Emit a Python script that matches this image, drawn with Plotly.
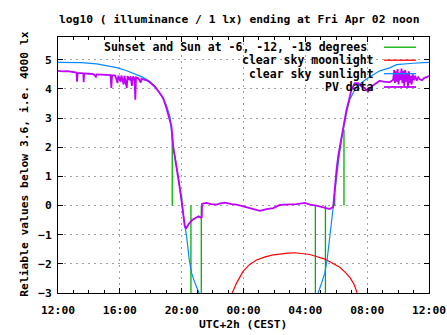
import plotly.graph_objects as go

# ---- data (hours after 12:00 CEST) ----
sun_hours = [0.0, 1.5, 2.5, 3.2, 3.8, 4.4, 4.85, 5.4, 5.95, 6.3, 6.6, 6.85, 7.0, 7.24, 7.45, 7.6,
             7.78, 7.93, 8.03, 8.21, 8.32, 8.49, 8.64, 8.86, 9.13, 9.2,
             16.8, 16.83, 17.05, 17.26, 17.41, 17.58, 17.69, 17.8, 17.91, 18.02, 18.18, 18.34,
             18.49, 18.66, 18.87, 19.31, 19.95, 20.81, 21.46, 21.9, 22.97, 24.0]
sun_values = [4.91, 4.90, 4.86, 4.80, 4.73, 4.63, 4.54, 4.42, 4.25, 4.08, 3.86, 3.62, 3.46, 3.05, 2.03, 1.57,
              1.0, 0.35, 0.05, -0.72, -1.06, -1.86, -2.31, -2.66, -3.0, -3.1,
              -3.1, -3.0, -2.66, -2.31, -1.86, -1.06, -0.72, -0.03, 0.54, 1.0, 1.68, 2.26,
              2.71, 3.17, 3.63, 4.08, 4.34, 4.62, 4.72, 4.83, 4.88, 4.91]

moon_hours = [11.27, 11.55, 11.98, 12.4, 12.84, 13.4, 13.92, 14.4, 14.89, 15.32, 15.86, 16.29,
              16.72, 17.26, 17.7, 18.23, 18.6, 18.9, 19.15, 19.35]
moon_values = [-3.0, -2.66, -2.25, -2.02, -1.87, -1.76, -1.69, -1.65, -1.63, -1.62, -1.64, -1.68,
               -1.75, -1.84, -1.96, -2.12, -2.3, -2.48, -2.7, -3.0]

event_hours = [7.39, 8.0, 8.6, 9.27, 16.65, 17.3, 17.9, 18.5]
event_values = [2.43, 0.35, -3.5, -3.5, -3.5, -3.5, 0.4, 2.6]

pv_hours = [0.00, 0.30, 0.60, 0.90, 1.20, 1.23, 1.27, 1.50, 1.64, 1.66, 1.69, 2.00, 2.30, 2.45, 2.50,
            2.80, 3.10, 3.40, 3.45, 3.50, 3.70, 3.85, 3.90, 4.05, 4.10, 4.25, 4.30, 4.45, 4.50,
            4.62, 4.70, 4.78, 4.85, 4.95, 5.00, 5.05, 5.20, 5.35, 5.40, 5.60, 5.80, 6.00, 6.25,
            6.57, 6.80, 7.00, 7.20, 7.34, 7.45, 7.60, 7.78, 7.93, 8.04, 8.10, 8.20, 8.30, 8.50,
            8.70, 8.90, 9.10, 9.25, 9.30, 9.32, 9.61, 9.90, 10.26, 10.50, 10.80, 11.23, 11.55,
            11.98, 12.41, 12.84, 13.06, 13.49, 13.92, 14.35, 15.00, 15.43, 15.97, 16.29, 16.72,
            17.15, 17.58, 17.80, 17.86, 17.91, 18.02, 18.12, 18.23, 18.44, 18.55, 18.66, 18.83,
            18.98, 19.20, 19.41, 19.63, 19.84, 20.06, 20.28, 20.60, 20.81, 21.03, 21.46, 21.68,
            21.75, 21.80, 21.85, 21.92, 21.97, 22.03, 22.10, 22.15, 22.22, 22.28, 22.35, 22.40,
            22.46, 22.52, 22.58, 22.64, 22.70, 22.76, 22.82, 22.88, 22.95, 23.02, 23.10, 23.20,
            23.30, 23.40, 23.55, 23.70, 23.85, 24.00]
pv_values = [4.62, 4.60, 4.61, 4.58, 4.56, 4.25, 4.55, 4.54, 4.53, 4.23, 4.53, 4.52, 4.51, 4.42, 4.50,
             4.49, 4.48, 4.47, 4.03, 4.47, 4.46, 4.20, 4.46, 4.25, 4.46, 4.15, 4.45, 4.03, 4.44,
             4.30, 4.43, 4.10, 4.42, 4.35, 3.63, 4.40, 4.37, 4.22, 4.34, 4.31, 4.28, 4.20, 4.08,
             3.86, 3.69, 3.37, 2.94, 2.71, 2.03, 1.57, 0.88, 0.43, -0.03, -0.26, -0.72, -0.77, -0.60,
             -0.49, -0.43, -0.37, -0.42, -0.40, 0.06, 0.09, 0.05, 0.03, 0.07, 0.10, 0.05, 0.03,
             -0.03, -0.09, -0.17, -0.18, -0.12, -0.09, 0.02, 0.03, 0.05, 0.09, 0.03, 0.00,
             -0.05, -0.12, -0.05, 0.31, 0.77, 1.23, 1.68, 2.03, 2.71, 3.05, 3.28, 3.63,
             3.97, 4.20, 4.20, 4.08, 4.03, 3.91, 4.08, 4.20, 4.28, 4.25, 4.23, 4.31,
             4.65, 4.20, 4.60, 4.25, 4.68, 4.15, 4.55, 4.30, 4.70, 4.20, 4.62, 4.10,
             4.65, 4.25, 4.55, 4.05, 4.60, 4.20, 4.45, 4.15, 4.50, 4.30, 4.45, 4.28,
             4.40, 4.33, 4.30, 4.38, 4.40, 4.45]

x_tick_vals = [0, 4, 8, 12, 16, 20, 24]
x_tick_text = ["12:00", "16:00", "20:00", "00:00", "04:00", "08:00", "12:00"]
y_tick_vals = [-3, -2, -1, 0, 1, 2, 3, 4, 5]

legend_labels = ["Sunset and Sun at -6, -12, -18 degrees", "clear sky moonlight",
                 "clear sky sunlight", "PV data"]

GREEN = "#00b000"
RED = "#ff0000"
BLUE = "#0a88ff"
PURPLE = "#c000ff"
FONT = "DejaVu Sans Mono"
TF = dict(family=FONT, size=11.3, color="black", weight="bold")
KF = dict(family=FONT, size=11.5, color="black", weight="bold")

fig = go.Figure()

ex, ey = [], []
for h, v in zip(event_hours, event_values):
    ex += [h, h, None]
    ey += [0, v, None]
fig.add_trace(go.Scatter(x=ex, y=ey, mode="lines", line=dict(color=GREEN, width=1.3),
                         showlegend=False, hoverinfo="skip"))
fig.add_trace(go.Scatter(x=moon_hours, y=moon_values, mode="lines", line=dict(color=RED, width=1.2),
                         showlegend=False))
fig.add_trace(go.Scatter(x=sun_hours, y=sun_values, mode="lines", line=dict(color=BLUE, width=1.2),
                         showlegend=False))
fig.add_trace(go.Scatter(x=pv_hours, y=pv_values, mode="lines", line=dict(color=PURPLE, width=1.8),
                         showlegend=False))

# plot area in px: x 58..429, y 37..293
W, H = 371.0, 256.0
def px(x):
    return (x - 58) / W
def py(y):
    return (293.3 - y) / H

shapes = []
shapes.append(dict(type="rect", xref="paper", yref="paper", x0=px(105), x1=1, y0=py(91), y1=1,
                   fillcolor="white", line=dict(width=0), layer="between"))
row_y = [47.5, 60.5, 74.0, 87.3]
row_right = [369, 376, 376, 376]
colors = [GREEN, RED, BLUE, PURPLE]
annotations = []
for lab, ry, rr, c in zip(legend_labels, row_y, row_right, colors):
    shapes.append(dict(type="line", xref="paper", yref="paper", x0=px(384), x1=px(416),
                       y0=py(ry), y1=py(ry), line=dict(color=c, width=1.3 if c != PURPLE else 1.8),
                       layer="above"))
    annotations.append(dict(text=lab, xref="paper", yref="paper", x=px(rr), y=py(ry),
                            xanchor="right", yanchor="middle", showarrow=False, font=KF))

annotations.append(dict(text="log10 ( illuminance / 1 lx) ending at Fri Apr 02 noon",
                        xref="paper", yref="paper", x=px(238.5), y=py(20), xanchor="center",
                        yanchor="middle", showarrow=False, font=TF))
annotations.append(dict(text="Reliable values below 3.6, i.e. 4000 lx", textangle=-90,
                        xref="paper", yref="paper", x=px(25), y=py(165), xanchor="center",
                        yanchor="middle", showarrow=False, font=TF))
annotations.append(dict(text="UTC+2h (CEST)", xref="paper", yref="paper", x=px(243), y=py(325),
                        xanchor="center", yanchor="middle", showarrow=False, font=TF))

fig.update_layout(
    width=447, height=335,
    margin=dict(l=58, r=18, t=37, b=42, pad=0, autoexpand=False),
    paper_bgcolor="white", plot_bgcolor="white",
    showlegend=False,
    shapes=shapes, annotations=annotations,
    font=TF,
)
fig.update_xaxes(range=[0, 24], tickvals=x_tick_vals, ticktext=x_tick_text, automargin=False,
                 ticks="inside", ticklen=5, tickcolor="black", showline=True, linecolor="black",
                 linewidth=1, mirror="ticks", showgrid=True, gridcolor="#a0a0a0", griddash="2px,4px",
                 gridwidth=1, zeroline=False, tickfont=TF, ticklabelstandoff=6,
                 minor=dict(dtick=1, tick0=0, ticks="inside", ticklen=3, tickcolor="black", showgrid=False))
fig.update_yaxes(range=[-3, 5.78], tickvals=y_tick_vals, automargin=False,
                 ticks="inside", ticklen=5, tickcolor="black", showline=True, linecolor="black",
                 linewidth=1, mirror="ticks", showgrid=True, gridcolor="#a0a0a0", griddash="2px,4px",
                 gridwidth=1, zeroline=False, tickfont=TF, ticklabelstandoff=3)

fig.write_html("out.html")
